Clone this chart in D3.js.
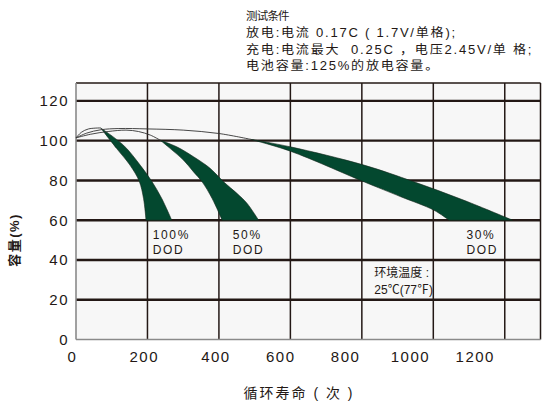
<!DOCTYPE html>
<html>
<head>
<meta charset="utf-8">
<script src="https://cdn.jsdelivr.net/npm/d3@7"></script>
<style>
  body { margin: 0; background: #fff; }
  svg { display: block; }
  text { font-family: "Liberation Sans", "Noto Sans CJK SC", sans-serif; fill: #231815; }
</style>
</head>
<body>
<div class="canvas"></div>
<script>
// ---- data ----
const xTicks = [0, 200, 400, 600, 800, 1000, 1200];
const yTicks = [0, 20, 40, 60, 80, 100, 120];
const titleHead = '测试条件';
const titleLines = [
    '放电:电流 0.17C ( 1.7V/单格);',
    '充电:电流最大\u00a0\u00a00.25C ，电压2.45V/单 格;',
    '电池容量:125%的放电容量。'
];
const envLines = ['环境温度 :', '25℃(77℉)'];
const dodNames = ['100%', '50%', '30%'];

// thin lead-in curves [cycles, capacity %]
const lead100 = [[0, 101.4], [15, 104.2], [35, 105.9], [69, 106.4]];
const lead50 = [[0, 101.4], [40, 103.2], [90, 104.6], [140, 105.3], [175, 104.6], [208, 102.8], [236, 100.2]];
const lead30 = [[0, 101.4], [30, 103.8], [70, 105.5], [120, 106.1], [200, 105.9], [300, 105.3], [400, 103.6], [488, 100.7]];

// shaded bands: outer (right) edge and inner (left) edge, tip down to 60%
const band100Outer = [[69, 106.4], [133, 97.7], [180, 87.6], [212, 79.6], [240, 70.9], [268, 60]];
const band100Inner = [[69, 106.4], [114, 96], [151, 87.7], [177, 79.6], [189, 70.9], [196, 60]];
const band50Outer = [[236, 100.2], [282, 96.9], [329, 91.9], [376, 86], [413, 79.3], [451, 73.4], [479, 68.4], [511, 60]];
const band50Inner = [[236, 100.2], [264, 96], [301, 90.2], [329, 84.3], [353, 79.3], [381, 70.9], [409, 60]];
const band30Outer = [[488, 100.7], [600, 96.9], [806, 87.7], [946, 79.3], [1086, 70], [1222, 60]];
const band30Inner = [[488, 100.7], [600, 94.7], [806, 79.3], [909, 71.8], [1002, 65], [1044, 60]];

// ---- layout ----
const width = 542, height = 403;
const margin = {top: 83, right: 1.5, bottom: 63.5, left: 76};

const svg = d3.select('.canvas')
    .append('svg')
    .attr('width', width)
    .attr('height', height);

const x = d3.scaleLinear().domain([0, 1300]).range([margin.left, width - margin.right]);
const y = d3.scaleLinear().domain([0, 129]).range([height - margin.bottom, margin.top]);

// the printed x numbers in the original drift left of their grid lines
const xLabel = d3.scaleLinear().domain([0, 400, 1200]).range([x(0) - 4, x(400) - 3.5, x(1200) - 30]);

const green = '#03482f';
const ink = '#231815';

// plot background
svg.append('rect')
    .attr('x', x(0)).attr('y', y(129))
    .attr('width', x(1300) - x(0)).attr('height', y(0) - y(129))
    .attr('fill', '#f7f7f7');

// grid
svg.append('g').selectAll('line')
    .data(yTicks.filter(d => d > 0))
    .join('line')
    .attr('x1', x(0)).attr('x2', x(1300))
    .attr('y1', d => y(d)).attr('y2', d => y(d))
    .attr('stroke', ink).attr('stroke-width', 2.4);

svg.append('g').selectAll('line')
    .data(xTicks.filter(d => d > 0))
    .join('line')
    .attr('x1', d => x(d)).attr('x2', d => x(d))
    .attr('y1', y(129)).attr('y2', y(0))
    .attr('stroke', ink).attr('stroke-width', 1.5);

// frame: dark top/right, grey left/bottom
svg.append('line')
    .attr('x1', x(0)).attr('x2', x(1300)).attr('y1', y(129)).attr('y2', y(129))
    .attr('stroke', ink).attr('stroke-width', 1.5);
svg.append('line')
    .attr('x1', x(1300)).attr('x2', x(1300)).attr('y1', y(129)).attr('y2', y(0))
    .attr('stroke', ink).attr('stroke-width', 1.5);
svg.append('line')
    .attr('x1', x(0)).attr('x2', x(0)).attr('y1', y(129)).attr('y2', y(0))
    .attr('stroke', '#8a8a8a').attr('stroke-width', 1.6);
svg.append('line')
    .attr('x1', x(0)).attr('x2', x(1300)).attr('y1', y(0)).attr('y2', y(0))
    .attr('stroke', '#8a8a8a').attr('stroke-width', 1.6);

// bands
const edge = d3.line()
    .x(d => x(d[0]))
    .y(d => y(d[1]))
    .curve(d3.curveCatmullRom.alpha(0.5));

const bandPath = (outer, inner) =>
    edge(outer) + edge(inner.slice().reverse()).replace('M', 'L') + 'Z';

svg.append('g').selectAll('path')
    .data([[band100Outer, band100Inner], [band50Outer, band50Inner], [band30Outer, band30Inner]])
    .join('path')
    .attr('d', d => bandPath(d[0], d[1]))
    .attr('fill', green)
    .attr('stroke', '#16261d')
    .attr('stroke-width', 0.6)
    .attr('stroke-linejoin', 'round');

// thin lead-in lines
svg.append('g').selectAll('path')
    .data([lead100, lead50, lead30])
    .join('path')
    .attr('d', edge)
    .attr('fill', 'none')
    .attr('stroke', '#333')
    .attr('stroke-width', 0.9);

// axes
const yAxis = d3.axisLeft(y).tickValues(yTicks).tickSize(0).tickPadding(7);
const yAxisGroup = svg.append('g')
    .attr('transform', `translate(${x(0)}, 0)`)
    .call(yAxis);

const xAxis = d3.axisBottom(xLabel).tickValues(xTicks).tickSize(0).tickPadding(12)
    .tickFormat(d3.format('d'));
const xAxisGroup = svg.append('g')
    .attr('transform', `translate(0, ${y(0)})`)
    .call(xAxis);

[yAxisGroup, xAxisGroup].forEach(g => {
    g.select('.domain').remove();
    g.selectAll('text')
        .attr('fill', ink)
        .style('font-size', '15px')
        .style('letter-spacing', '1.5px');
});

// axis titles
svg.append('text')
    .attr('transform', `translate(19, 240) rotate(-90)`)
    .attr('text-anchor', 'middle')
    .style('font-size', '13px')
    .style('font-weight', 'bold')
    .style('letter-spacing', '1.5px')
    .text('容量(%)');

svg.append('text')
    .attr('x', 299).attr('y', 398)
    .attr('text-anchor', 'middle')
    .style('font-size', '14px')
    .style('letter-spacing', '2px')
    .text('循环寿命 ( 次 )');

// test conditions (the original type is a little stretched sideways)
svg.append('text')
    .attr('x', 246).attr('y', 20)
    .style('font-size', '11.5px')
    .style('letter-spacing', '-0.8px')
    .text(titleHead);

svg.append('g')
    .attr('transform', 'translate(246, 0) scale(1.09, 1)')
    .selectAll('text')
    .data(titleLines)
    .join('text')
    .attr('x', 0)
    .attr('y', (d, i) => 37.5 + i * 16.5)
    .style('font-size', '12px')
    .style('letter-spacing', '1.6px')
    .text(d => d);

// DOD labels
const dodPos = [215, 439, 1093];
dodNames.forEach((name, i) => {
    const t = svg.append('text')
        .attr('x', x(dodPos[i]))
        .style('font-size', '12px')
        .style('letter-spacing', '1.6px');
    t.append('tspan').attr('x', x(dodPos[i])).attr('y', y(50.4)).text(name);
    t.append('tspan').attr('x', x(dodPos[i])).attr('y', y(43.2)).text('DOD');
});

// ambient temperature
svg.append('g').selectAll('text')
    .data(envLines)
    .join('text')
    .attr('x', x(835))
    .attr('y', (d, i) => y(31.2 - i * 8.4))
    .style('font-size', '12px')
    .text(d => d);
</script>
</body>
</html>
